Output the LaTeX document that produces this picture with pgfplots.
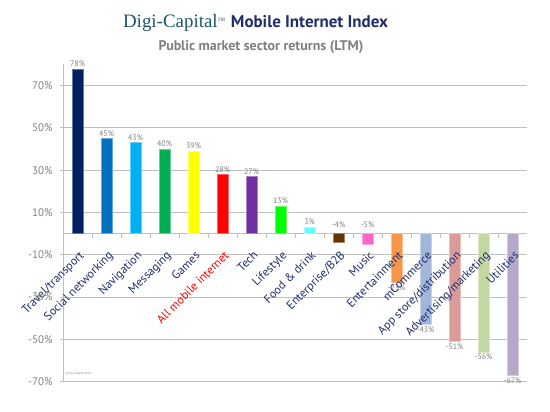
\documentclass[border=0pt]{standalone}
\usepackage{pgfplots}
\pgfplotsset{compat=1.18}
\usepackage{fontspec}
\setmainfont{PT Sans}
\newfontfamily\serifttl{Liberation Serif}
\definecolor{navy}{HTML}{1F2D6B}
\definecolor{ttlteal}{HTML}{1F5468}
\definecolor{gtxt}{HTML}{7F7F7F}
\definecolor{gridc}{HTML}{BFBFBF}
\definecolor{c1}{HTML}{002060}
\definecolor{c2}{HTML}{0070C0}
\definecolor{c3}{HTML}{00B0F0}
\definecolor{c4}{HTML}{00B050}
\definecolor{c5}{HTML}{FFFF00}
\definecolor{c6}{HTML}{FF0000}
\definecolor{c7}{HTML}{7030A0}
\definecolor{c8}{HTML}{00FF00}
\definecolor{c9}{HTML}{66FFFF}
\definecolor{c10}{HTML}{663300}
\definecolor{c11}{HTML}{FF66CC}
\definecolor{c12}{HTML}{F79646}
\definecolor{c13}{HTML}{A3B5D9}
\definecolor{c14}{HTML}{D99A98}
\definecolor{c15}{HTML}{C4D6A2}
\definecolor{c16}{HTML}{B5A8C9}
\pgfplotsset{layers/mylayers/.define layer set={axis background,axis grid,axis ticks,axis lines,pre main,main,axis tick labels,axis descriptions,axis foreground}{
    grid style={/pgfplots/on layer=axis grid},
    tick style={/pgfplots/on layer=axis ticks},
    axis line style={/pgfplots/on layer=axis lines},
    label style={/pgfplots/on layer=axis descriptions},
    legend style={/pgfplots/on layer=axis descriptions},
    title style={/pgfplots/on layer=axis descriptions},
    ticklabel style={/pgfplots/on layer=axis tick labels},
    axis background@ style={/pgfplots/on layer=axis background},
  }}
\begin{document}
\begin{tikzpicture}[x=1bp,y=1bp]
\begin{axis}[
  set layers=mylayers,
  at={(0,0)}, anchor=south west,
  scale only axis, width=464bp, height=317bp,
  enlargelimits=false,
  ymin=-70, ymax=80,
  xmin=-0.5, xmax=15.5,
  axis lines*=left,
  axis line style={draw=gridc, line width=0.8pt, -},
  tick align=outside,
  ytick={-70,-50,-30,-10,10,30,50,70},
  yticklabels={-70\%,-50\%,-30\%,-10\%,10\%,30\%,50\%,70\%},
  extra y ticks={0}, extra y tick labels={},
  extra y tick style={grid=major, major tick length=0pt},
  ymajorgrids, grid style={draw=gridc, line width=0.8pt},
  ytick style={draw=gridc, line width=0.8pt},
  major tick length=3bp,
  y tick label style={font=\fontsize{11}{12}\selectfont, text=gtxt, xshift=-4bp},
  xtick={0,...,15},
  xticklabels={Travel/transport,Social networking,Navigation,Messaging,Games,\textcolor{c6}{All mobile internet},Tech,Lifestyle,Food \& drink,Enterprise/B2B,Music,Entertainment,mCommerce,App store/distribution,Advertising/marketing,Utilities},
  x tick label style={font=\fontsize{12}{13}\selectfont, text=navy, xshift=1bp, yshift=135.9bp, rotate=45, anchor=north east, inner sep=1pt},
  major x tick style={draw=none},
  minor xtick={0.5,1.5,...,14.5},
  minor tick length=4bp,
  minor x tick style={draw=gridc, line width=0.8pt, yshift=147.93bp},
  ybar, bar width=11bp, bar shift=0pt,
  nodes near coords={\pgfmathprintnumber[assume math mode=true]{\pgfplotspointmeta}\%},
  every node near coord/.append style={font=\fontsize{8}{9}\selectfont, text=gtxt, inner sep=2pt},
  clip=false,
]
\addplot[fill=c1, draw=c1!60!white] coordinates {(0,78)};
\addplot[fill=c2, draw=c2!60!white] coordinates {(1,45)};
\addplot[fill=c3, draw=c3!60!white] coordinates {(2,43)};
\addplot[fill=c4, draw=c4!60!white] coordinates {(3,40)};
\addplot[fill=c5, draw=c5!60!white] coordinates {(4,39)};
\addplot[fill=c6, draw=c6!60!white] coordinates {(5,28)};
\addplot[fill=c7, draw=c7!60!white] coordinates {(6,27)};
\addplot[fill=c8, draw=c8!60!white] coordinates {(7,13)};
\addplot[fill=c9, draw=c9!60!white] coordinates {(8,3)};
\addplot[fill=c10, draw=c10!60!white, every node near coord/.append style={anchor=south, yshift=12bp}] coordinates {(9,-4)};
\addplot[fill=c11, draw=c11!60!white, every node near coord/.append style={anchor=south, yshift=14bp}] coordinates {(10,-5)};
\addplot[fill=c12, draw=c12!60!white] coordinates {(11,-23)};
\addplot[fill=c13, draw=c13!60!white] coordinates {(12,-43)};
\addplot[fill=c14, draw=c14!60!white] coordinates {(13,-51)};
\addplot[fill=c15, draw=c15!60!white] coordinates {(14,-56)};
\addplot[fill=c16, draw=c16!60!white] coordinates {(15,-67)};
\node[anchor=south west, font=\fontsize{3}{3}\selectfont, text=gtxt, inner sep=0pt] at (rel axis cs:0.005,0.02) {\textcopyright\ Digi-Capital 2014};
\end{axis}
\node[anchor=base, inner sep=0pt] at (192.5bp,354bp) {{\serifttl\fontsize{19}{20}\selectfont\color{ttlteal}Digi-Capital\textsuperscript{\fontsize{5}{5}\selectfont TM}}\ \ {\fontsize{17}{18}\selectfont\bfseries\color{navy}Mobile Internet Index}};
\node[anchor=base, inner sep=0pt, font=\fontsize{14}{15}\selectfont\bfseries, text=gtxt] at (198bp,331bp) {Public market sector returns (LTM)};
\useasboundingbox (-63bp,-30.5bp) rectangle (487bp,381.5bp);
\end{tikzpicture}
\end{document}
